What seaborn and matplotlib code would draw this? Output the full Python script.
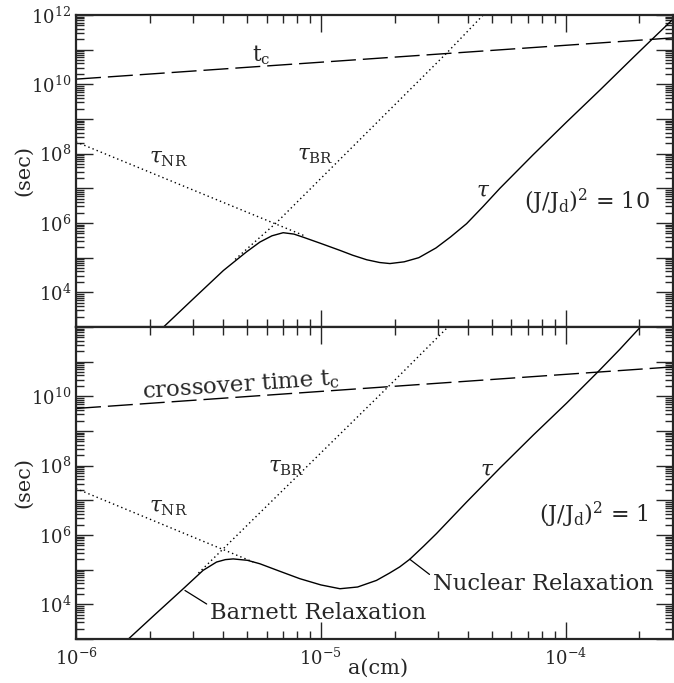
import numpy as np
import matplotlib
matplotlib.use("Agg")
import matplotlib.pyplot as plt
import matplotlib.ticker as mticker
import seaborn as sns

# valores (log10 de a[cm] y log10 de t[s])
# panel superior, (J/Jd)^2 = 10
tc_top_lx = [-6.0, -3.562]
tc_top_ly = [10.15, 11.34]
nr_top_lx = [-6.0, -5.07]
nr_top_ly = [8.34, 5.64]
br_top_lx = [-5.35, -5.18, -4.488, -4.337]
br_top_ly = [4.95, 6.02, 10.89, 12.0]
tau_top_lx = [-5.644, -5.52, -5.398, -5.305, -5.249, -5.20, -5.154, -5.11, -5.072, -5.00,
              -4.922, -4.87, -4.813, -4.76, -4.718, -4.66, -4.60, -4.53, -4.47, -4.405,
              -4.337, -4.269, -4.133, -3.997, -3.861, -3.725, -3.643, -3.559]
tau_top_ly = [2.99, 3.82, 4.63, 5.16, 5.45, 5.63, 5.72, 5.68, 5.59, 5.41,
              5.21, 5.07, 4.94, 4.86, 4.83, 4.88, 5.00, 5.28, 5.60, 5.98,
              6.48, 7.00, 7.97, 8.91, 9.83, 10.77, 11.33, 11.90]

# panel inferior, (J/Jd)^2 = 1
tc_bot_lx = [-6.0, -3.562]
tc_bot_ly = [9.65, 10.85]
nr_bot_lx = [-6.0, -5.276]
nr_bot_ly = [7.34, 5.22]
br_bot_lx = [-5.50, -5.399, -4.726, -4.481]
br_bot_ly = [4.90, 5.60, 10.27, 12.0]
tau_bot_lx = [-5.786, -5.68, -5.562, -5.481, -5.426, -5.39, -5.358, -5.30, -5.249, -5.17,
              -5.086, -5.00, -4.922, -4.85, -4.773, -4.72, -4.678, -4.637, -4.58, -4.528,
              -4.405, -4.269, -4.133, -3.997, -3.868, -3.78, -3.695]
tau_bot_ly = [3.0, 3.69, 4.45, 4.98, 5.22, 5.29, 5.31, 5.27, 5.17, 4.96,
              4.74, 4.56, 4.45, 4.50, 4.69, 4.90, 5.08, 5.30, 5.68, 6.04,
              6.95, 7.93, 8.88, 9.80, 10.71, 11.35, 12.0]

sns.set_style("ticks")
plt.rcParams['font.family'] = ['DejaVu Serif']
plt.rcParams['mathtext.fontset'] = 'dejavuserif'

fig = plt.figure(figsize=(6.74, 6.83), dpi=100)
ax1 = fig.add_axes([76/674, 1-327/683, 597/674, 312/683])
ax2 = fig.add_axes([76/674, 1-639/683, 597/674, 312/683], sharex=ax1)

DASH = (0, (18, 5))
DOT = (0, (1, 2.2))

def curve(ax, lx, ly, ls):
    sns.lineplot(x=10.0**np.array(lx), y=10.0**np.array(ly), ax=ax, color='k',
                 lw=1.0, linestyle=ls)

def yfmt(hide_top):
    def f(v, pos):
        e = int(round(np.log10(v)))
        if e % 2 or (hide_top and e == 12):
            return ''
        return r'$10^{%d}$' % e
    return mticker.FuncFormatter(f)

for ax, hide in [(ax1, False), (ax2, True)]:
    ax.set_xscale('log')
    ax.set_yscale('log')
    ax.set_xlim(1e-6, 10**-3.562)
    ax.set_ylim(1e3, 1e12)
    ax.yaxis.set_major_locator(mticker.LogLocator(base=10, numticks=20))
    ax.yaxis.set_minor_locator(mticker.LogLocator(base=10, subs=np.arange(2, 10), numticks=20))
    ax.yaxis.set_major_formatter(yfmt(hide))
    ax.yaxis.set_minor_formatter(mticker.NullFormatter())
    ax.tick_params(which='both', direction='in', top=True, right=True, labelsize=13, width=1.0)
    ax.tick_params(which='major', length=12)
    ax.tick_params(which='minor', length=6)
    ax.tick_params(axis='x', labelsize=13, pad=6)
    for s in ax.spines.values():
        s.set_linewidth(1.6)
    ax.set_ylabel('(sec)', fontsize=15)
    ax.yaxis.set_label_coords(-0.072, 0.5)

ax1.tick_params(labelbottom=False)
ax2.xaxis.set_major_formatter(mticker.LogFormatterMathtext())

curve(ax1, tc_top_lx, tc_top_ly, DASH)
curve(ax1, nr_top_lx, nr_top_ly, DOT)
curve(ax1, br_top_lx, br_top_ly, DOT)
curve(ax1, tau_top_lx, tau_top_ly, '-')

curve(ax2, tc_bot_lx, tc_bot_ly, DASH)
curve(ax2, nr_bot_lx, nr_bot_ly, DOT)
curve(ax2, br_bot_lx, br_bot_ly, DOT)
curve(ax2, tau_bot_lx, tau_bot_ly, '-')

ax2.set_xlabel('a(cm)', fontsize=15)
ax2.xaxis.set_label_coords(0.506, -0.062)

def P(x, y):
    return (10**x, 10**y)

fs = 15.5
ax1.text(*P(-5.245, 10.84), r'$\mathrm{t_c}$', fontsize=fs, ha='center', va='center')
ax1.text(*P(-5.624, 7.87), r'$\tau_{\rm NR}$', fontsize=fs, ha='center', va='center')
ax1.text(*P(-5.024, 7.95), r'$\tau_{\rm BR}$', fontsize=fs, ha='center', va='center')
ax1.text(*P(-4.339, 6.94), r'$\tau$', fontsize=fs, ha='center', va='center')
ax1.text(*P(-3.914, 6.60), r'(J/J$_\mathrm{d}$)$^2$ = 10', fontsize=16, ha='center', va='center')

ax2.text(*P(-5.327, 10.32), r'crossover time t$_\mathrm{c}$', fontsize=16.5, ha='center',
         va='center', rotation=4, rotation_mode='anchor')
ax2.text(*P(-5.143, 7.95), r'$\tau_{\rm BR}$', fontsize=fs, ha='center', va='center')
ax2.text(*P(-5.624, 6.80), r'$\tau_{\rm NR}$', fontsize=fs, ha='center', va='center')
ax2.text(*P(-4.322, 7.87), r'$\tau$', fontsize=fs, ha='center', va='center')
ax2.text(*P(-3.886, 6.57), r'(J/J$_\mathrm{d}$)$^2$ = 1', fontsize=16, ha='center', va='center')

lead = dict(arrowstyle='-', lw=0.9, color='k', shrinkA=0, shrinkB=0)
ax2.annotate('Barnett Relaxation', xy=P(-5.555, 4.40), xytext=P(-5.453, 3.76),
             fontsize=16.3, ha='left', va='center',
             arrowprops=dict(lead, relpos=(0, 0.8)))
ax2.annotate('Nuclear Relaxation', xy=P(-4.637, 5.30), xytext=P(-4.543, 4.60),
             fontsize=16.3, ha='left', va='center',
             arrowprops=dict(lead, relpos=(0, 0.8)))

fig.savefig('out.png', dpi=100)
